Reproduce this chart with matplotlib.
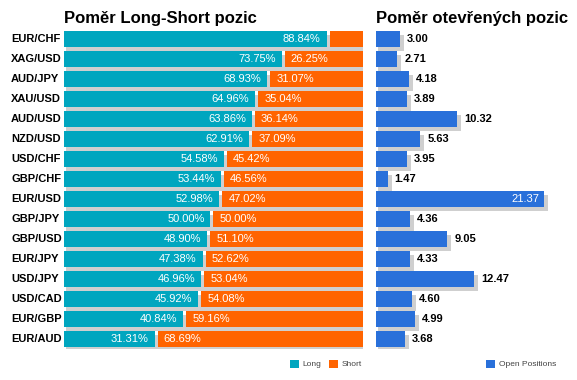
import matplotlib
matplotlib.use("Agg")
import matplotlib.pyplot as plt
import matplotlib.transforms as mtransforms

plt.rcParams['font.family'] = ['Liberation Sans', 'DejaVu Sans']

pairs = ['EUR/CHF', 'XAG/USD', 'AUD/JPY', 'XAU/USD', 'AUD/USD', 'NZD/USD',
         'USD/CHF', 'GBP/CHF', 'EUR/USD', 'GBP/JPY', 'GBP/USD', 'EUR/JPY',
         'USD/JPY', 'USD/CAD', 'EUR/GBP', 'EUR/AUD']
long_pct = [88.84, 73.75, 68.93, 64.96, 63.86, 62.91, 54.58, 53.44,
            52.98, 50.00, 48.90, 47.38, 46.96, 45.92, 40.84, 31.31]
short_pct = [11.16, 26.25, 31.07, 35.04, 36.14, 37.09, 45.42, 46.56,
             47.02, 50.00, 51.10, 52.62, 53.04, 54.08, 59.16, 68.69]
open_pos = [3.00, 2.71, 4.18, 3.89, 10.32, 5.63, 3.95, 1.47,
            21.37, 4.36, 9.05, 4.33, 12.47, 4.60, 4.99, 3.68]

C_LONG = '#00a6bf'
C_SHORT = '#ff6400'
C_OPEN = '#2970da'
C_SHADOW = '#cfcfcf'

W, H = 577, 380
fig = plt.figure(figsize=(W / 100, H / 100), dpi=100)

def px_axes(x0, x1, y0, y1):
    # axes placed by pixel box (top-left origin)
    return fig.add_axes([x0 / W, 1 - y1 / H, (x1 - x0) / W, (y1 - y0) / H])

rows = list(range(len(pairs)))
ax1 = px_axes(64, 363, 29, 349)
ax2 = px_axes(376, 560, 29, 349)

# left panel: 299 px for 100 %
ppu1 = 299 / 100.0
ax1.set_xlim(0, 100)
ppu2 = 7.87
ax2.set_xlim(0, (560 - 376) / ppu2)
for ax in (ax1, ax2):
    ax.set_ylim(len(pairs) - 0.5, -0.5)
    ax.axis('off')

bh = 0.8
dy = 4 / 20.0  # shadow drop in row units

# shadows
ax1.barh([r + dy for r in rows], [l + s + 2 / ppu1 for l, s in zip(long_pct, short_pct)],
         left=2 / ppu1, height=bh, color=C_SHADOW, zorder=1)
ax2.barh([r + dy for r in rows], [v + 2 / ppu2 for v in open_pos],
         left=2 / ppu2, height=bh, color=C_SHADOW, zorder=1)

gap = 3 / ppu1
b_long = ax1.barh(rows, [l - gap for l in long_pct], height=bh, color=C_LONG, zorder=2, label='Long')
b_short = ax1.barh(rows, short_pct, left=long_pct, height=bh, color=C_SHORT, zorder=2, label='Short')
b_open = ax2.barh(rows, open_pos, height=bh, color=C_OPEN, zorder=2, label='Open Positions')

for r, l, s in zip(rows, long_pct, short_pct):
    ax1.text(l - gap - 6 / ppu1, r, '%.2f%%' % l, color='white', fontsize=8,
             ha='right', va='center', zorder=3)
    if s > 15:
        ax1.text(l + 6 / ppu1, r, '%.2f%%' % s, color='white', fontsize=8,
                 ha='left', va='center', zorder=3)

for r, v in zip(rows, open_pos):
    if v > 18:
        ax2.text(v - 5 / ppu2, r, '%.2f' % v, color='white', fontsize=8,
                 ha='right', va='center', zorder=3)
    else:
        ax2.text(v + 7 / ppu2, r, '%.2f' % v, color='black', fontsize=8,
                 fontweight='bold', ha='left', va='center', zorder=3)

tr = mtransforms.blended_transform_factory(fig.transFigure, ax1.transData)
for r, p in zip(rows, pairs):
    ax1.text(11 / W, r, p, transform=tr, fontsize=8, fontweight='bold',
             ha='left', va='center')

fig.text(64 / W, 1 - 23 / H, 'Poměr Long-Short pozic', fontsize=12,
         fontweight='bold', ha='left', va='baseline')
fig.text(376 / W, 1 - 23 / H, 'Poměr otevřených pozic', fontsize=12,
         fontweight='bold', ha='left', va='baseline')

leg_kw = dict(frameon=False, fontsize=6, handlelength=1.1, handleheight=1.1,
              handletextpad=0.4, columnspacing=0.9, borderpad=0, labelcolor='#444444')
fig.legend(handles=[b_long, b_short], ncol=2, loc='center left',
           bbox_to_anchor=(286 / W, 1 - 364 / H), **leg_kw)
fig.legend(handles=[b_open], loc='center left',
           bbox_to_anchor=(482 / W, 1 - 364 / H), **leg_kw)

fig.savefig('out.png', dpi=100)
